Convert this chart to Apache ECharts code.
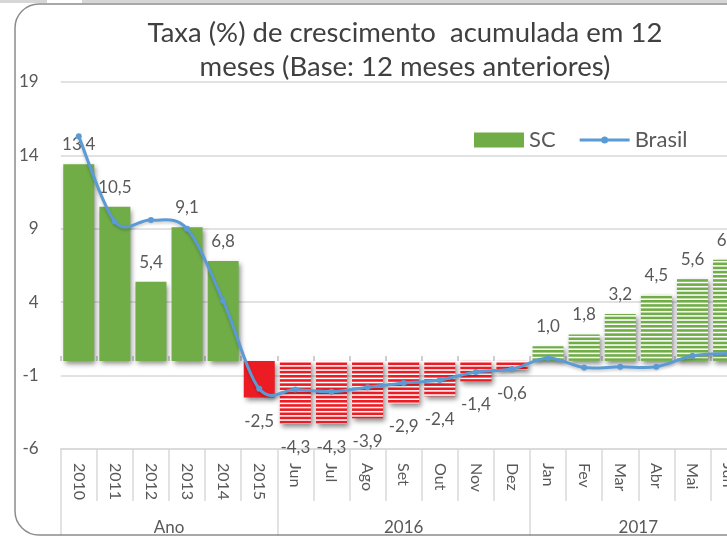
<!DOCTYPE html>
<html>
<head>
<meta charset="utf-8">
<script src="https://cdn.jsdelivr.net/npm/echarts@6/dist/echarts.min.js"></script>
<style>
  html, body { margin: 0; padding: 0; overflow: hidden; background: #fff; }
  #chart { width: 810px; height: 536px; }
</style>
</head>
<body>
<div id="chart"></div>
<script>
// Categories: yearly totals, then monthly 2016 and 2017
const categories = ['2010', '2011', '2012', '2013', '2014', '2015',
  'Jun', 'Jul', 'Ago', 'Set', 'Out', 'Nov', 'Dez',
  'Jan', 'Fev', 'Mar', 'Abr', 'Mai', 'Jun'];
// Group row under the categories
const groupNames = ['Ano', '2016', '2017'];
const groupSizes = [6, 7, 6];
// Accumulated 12-month growth rate (%)
const scValues = [13.4, 10.5, 5.4, 9.1, 6.8, -2.5, -4.3, -4.3, -3.9, -2.9, -2.4, -1.4, -0.6,
  1.0, 1.8, 3.2, 4.5, 5.6, 6.9];
const brasilValues = [15.3, 9.5, 9.6, 9.0, 4.1, -1.9, -1.95, -2.1, -1.8, -1.5, -1.3, -0.75, -0.55,
  0.2, -0.45, -0.4, -0.4, 0.35, 0.5];
// Value axis ticks
const yTicks = [-6, -1, 4, 9, 14, 19];

const GREEN = '#70ad47';
const RED = '#ec1c24';
const BLUE = '#5b9bd5';
const TEXT = '#595959';
const FONT = 'Lato, "Open Sans", sans-serif';

// Horizontal-stripe fill used for the monthly bars
function stripes(color) {
  const c = document.createElement('canvas');
  c.width = 8; c.height = 25;
  const g = c.getContext('2d');
  g.fillStyle = '#ffffff';
  g.fillRect(0, 0, 8, 25);
  g.fillStyle = color;
  for (let i = 0; i < 6; i++) g.fillRect(0, i * 25 / 6, 8, 2.6);
  return { image: c, repeat: 'repeat' };
}
const redStripes = stripes(RED);
const greenStripes = stripes(GREEN);

const yearlyCount = groupSizes[0];
const barData = scValues.map((v, i) => {
  const monthly = i >= yearlyCount;
  const color = v < 0 ? (monthly ? redStripes : RED) : (monthly ? greenStripes : GREEN);
  return {
    value: v,
    itemStyle: { color: color },
    label: { position: v < 0 ? 'bottom' : 'top', distance: v < 0 ? 15 : 11 }
  };
});

// Group separators and label centres in category units
const groupEdges = [0];
groupSizes.forEach(s => groupEdges.push(groupEdges[groupEdges.length - 1] + s));
const groupCenters = groupSizes.map((s, i) => groupEdges[i] + s / 2);

const fmt = v => v.toFixed(1).replace('.', ',');

// Smoothed line (Catmull-Rom bezier segments) through the Brasil points
function renderBrasil(params, api) {
  const n = brasilValues.length;
  const P = j => {
    const k = Math.max(0, Math.min(n - 1, j));
    return api.coord([k, brasilValues[k]]);
  };
  const i = params.dataIndex;
  const p1 = P(i);
  const children = [];
  if (i < n - 1) {
    const p0 = P(i - 1), p2 = P(i + 1), p3 = P(i + 2);
    children.push({
      type: 'bezierCurve',
      shape: {
        x1: p1[0], y1: p1[1],
        cpx1: p1[0] + (p2[0] - p0[0]) / 6, cpy1: p1[1] + (p2[1] - p0[1]) / 6,
        cpx2: p2[0] - (p3[0] - p1[0]) / 6, cpy2: p2[1] - (p3[1] - p1[1]) / 6,
        x2: p2[0], y2: p2[1]
      },
      style: { fill: 'none', stroke: BLUE, lineWidth: 3, lineCap: 'round',
        shadowBlur: 3, shadowColor: 'rgba(0,0,0,0.2)', shadowOffsetY: 2 }
    });
  }
  children.push({ type: 'circle', shape: { cx: p1[0], cy: p1[1], r: 3 }, style: { fill: BLUE } });
  return { type: 'group', children: children };
}

const chart = echarts.init(document.getElementById('chart'), null, { renderer: 'canvas' });
chart.setOption({
  animation: false,
  backgroundColor: '#ffffff',
  title: {
    text: 'Taxa (%) de crescimento  acumulada em 12\nmeses (Base: 12 meses anteriores)',
    left: 'center',
    top: 11,
    textStyle: { fontFamily: FONT, fontSize: 27.5, fontWeight: 'normal', color: '#404040', lineHeight: 34 }
  },
  legend: {
    left: 474,
    top: 129,
    padding: 0,
    itemWidth: 50,
    itemHeight: 15,
    itemGap: 24,
    textStyle: { fontFamily: FONT, fontSize: 22, color: TEXT },
    data: [
      { name: 'SC', icon: 'rect' },
      { name: 'Brasil', icon: 'path://M0,2 L50,2 L50,5 L0,5 Z M21.5,3.5 A3.5,3.5 0 1 1 28.5,3.5 A3.5,3.5 0 1 1 21.5,3.5 Z' }
    ]
  },
  graphic: [
    { type: 'rect', shape: { x: 0, y: 0, width: 810, height: 3 }, style: { fill: '#d6d6d6' }, z: 0 },
    { type: 'rect', shape: { x: 47, y: 0, width: 35, height: 3 }, style: { fill: '#ffffff' }, z: 1 },
    { type: 'rect', shape: { x: 15, y: 4, width: 790, height: 531, r: 24 },
      style: { fill: 'none', stroke: '#8c8c8c', lineWidth: 1.5 }, z: 1 }
  ],
  grid: { left: 60.7, right: 63.4, top: 82, bottom: 86 },
  xAxis: [
    {
      type: 'category',
      data: categories,
      position: 'bottom',
      axisLine: { onZero: false, lineStyle: { color: '#d9d9d9', width: 1.5 } },
      axisTick: { show: true, interval: 0, length: 52, lineStyle: { color: '#d9d9d9', width: 1.5 } },
      axisLabel: { interval: 0, rotate: -90, margin: 14, fontFamily: FONT, fontSize: 16, color: TEXT }
    },
    {
      type: 'value',
      min: 0,
      max: categories.length,
      position: 'bottom',
      axisLine: { show: false, onZero: false },
      splitLine: { show: false },
      axisTick: { show: true, length: 90, customValues: groupEdges, lineStyle: { color: '#d9d9d9', width: 1.5 } },
      axisLabel: {
        margin: 70, fontFamily: FONT, fontSize: 17, color: TEXT,
        customValues: groupCenters,
        formatter: v => groupNames[groupCenters.indexOf(v)] || ''
      }
    },
    {
      type: 'category',
      data: categories,
      position: 'bottom',
      axisLine: { show: false, onZero: true },
      axisTick: { show: true, inside: true, interval: 0, length: 5, lineStyle: { color: '#bfbfbf', width: 1.5 } },
      axisLabel: { show: false }
    }
  ],
  yAxis: {
    type: 'value',
    min: yTicks[0],
    max: yTicks[yTicks.length - 1],
    interval: yTicks[1] - yTicks[0],
    axisLine: { show: false },
    axisTick: { show: false },
    axisLabel: { margin: 22, fontFamily: FONT, fontSize: 17, color: TEXT },
    splitLine: { lineStyle: { color: '#d9d9d9', width: 1.5 } }
  },
  series: [
    {
      name: 'SC',
      type: 'bar',
      xAxisIndex: 0,
      barWidth: 31,
      itemStyle: {
        color: GREEN,
        shadowBlur: 5, shadowColor: 'rgba(0,0,0,0.45)', shadowOffsetX: 2, shadowOffsetY: 3
      },
      label: {
        show: true,
        fontFamily: FONT, fontSize: 17, color: TEXT,
        formatter: p => fmt(p.value)
      },
      data: barData,
      z: 2
    },
    {
      name: 'Brasil',
      type: 'custom',
      xAxisIndex: 0,
      renderItem: renderBrasil,
      itemStyle: { color: BLUE },
      encode: { x: 0, y: 1 },
      data: brasilValues.map((v, i) => [i, v]),
      z: 3
    }
  ]
});
</script>
</body>
</html>
